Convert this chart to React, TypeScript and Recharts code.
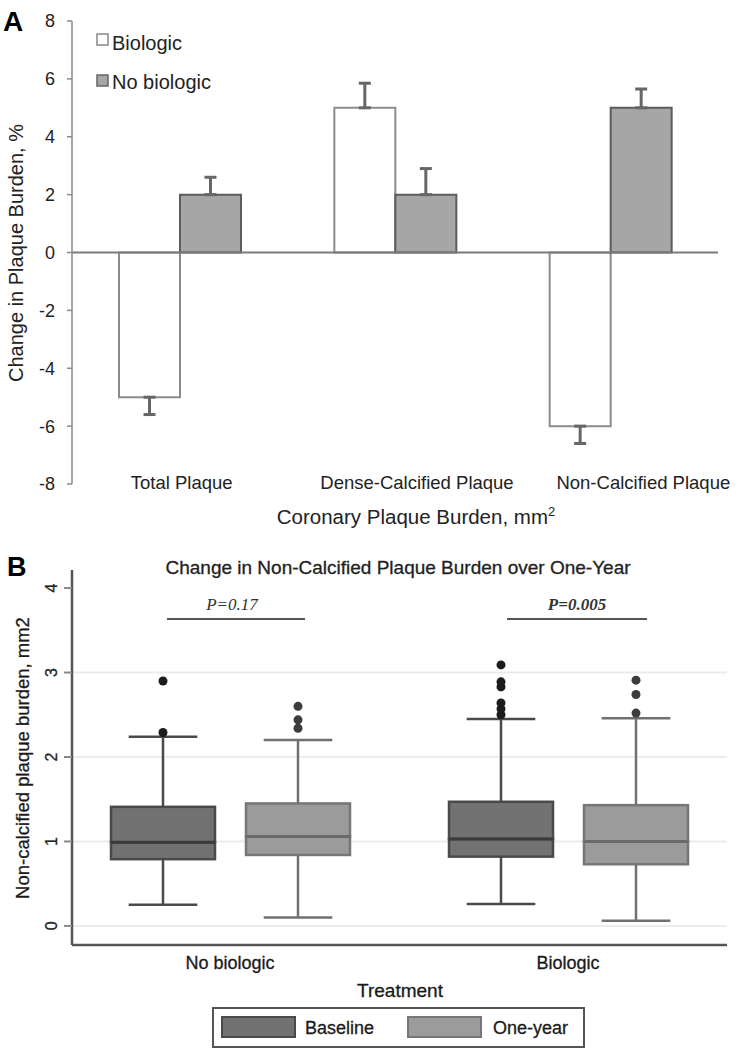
import React from 'react';
import {
  BarChart,
  ComposedChart,
  Bar,
  XAxis,
  YAxis,
  ErrorBar,
  ReferenceLine,
  CartesianGrid
} from 'recharts';

// Panel A: change in plaque burden (%)
const categories = ['Total Plaque', 'Dense-Calcified Plaque', 'Non-Calcified Plaque'];
const biologicChange = [-5, 5, -6];
const biologicError = [0.6, 0.85, 0.6];
const noBiologicChange = [2, 2, 5];
const noBiologicError = [0.6, 0.9, 0.65];
const yTicksA = [-8, -6, -4, -2, 0, 2, 4, 6, 8];

// Panel B: box plots of non-calcified plaque burden
const groups = ['No biologic', 'Biologic'];
const baselineMin = [0.25, 0.26];
const baselineQ1 = [0.79, 0.82];
const baselineMedian = [0.99, 1.03];
const baselineQ3 = [1.41, 1.47];
const baselineMax = [2.24, 2.45];
const baselineOutliers = [[2.29, 2.9], [2.5, 2.57, 2.64, 2.83, 2.89, 3.09]];
const oneYearMin = [0.1, 0.06];
const oneYearQ1 = [0.84, 0.73];
const oneYearMedian = [1.06, 1.0];
const oneYearQ3 = [1.45, 1.43];
const oneYearMax = [2.2, 2.46];
const oneYearOutliers = [[2.34, 2.44, 2.6], [2.52, 2.74, 2.91]];
const yTicksB = [0, 1, 2, 3, 4];
const gridB = [0, 1, 2, 3];

const FONT = 'Liberation Sans, Arial, Helvetica, sans-serif';
const SERIF = 'Liberation Serif, Times New Roman, serif';

const oneSided = (v: number, e: number) => (v < 0 ? [e, 0] : [0, e]);

const barRows = categories.map((name, i) => ({
  name,
  biologic: biologicChange[i],
  biologicErr: oneSided(biologicChange[i], biologicError[i]),
  noBiologic: noBiologicChange[i],
  noBiologicErr: oneSided(noBiologicChange[i], noBiologicError[i])
}));

const boxRows = groups.map((group, i) => ({
  group,
  bFloor: baselineMin[i],
  bLow: baselineQ1[i] - baselineMin[i],
  bBoxLow: baselineMedian[i] - baselineQ1[i],
  bBoxHigh: baselineQ3[i] - baselineMedian[i],
  bHigh: baselineMax[i] - baselineQ3[i],
  bMax: baselineMax[i],
  bOut: baselineOutliers[i],
  oFloor: oneYearMin[i],
  oLow: oneYearQ1[i] - oneYearMin[i],
  oBoxLow: oneYearMedian[i] - oneYearQ1[i],
  oBoxHigh: oneYearQ3[i] - oneYearMedian[i],
  oHigh: oneYearMax[i] - oneYearQ3[i],
  oMax: oneYearMax[i],
  oOut: oneYearOutliers[i]
}));

const tickShift = [2, 22, 33];

const CategoryTick = (props: any) => {
  const { x, y, payload } = props;
  const i = categories.indexOf(payload.value);
  return (
    <text x={x + (tickShift[i] || 0)} y={y - 2} textAnchor="middle" dominantBaseline="central"
      fontSize={18.5} fontFamily={FONT} fill="#222">
      {payload.value}
    </text>
  );
};

const GroupTick = (props: any) => {
  const { x, y, payload } = props;
  return (
    <text x={x} y={y + 18} textAnchor="middle" dominantBaseline="central"
      fontSize={18} fontFamily={FONT} fill="#1a1a1a" stroke="#1a1a1a" strokeWidth={0.3}>
      {payload.value}
    </text>
  );
};

const RotatedTick = (props: any) => {
  const { x, y, payload } = props;
  return (
    <text x={x} y={y} transform={`rotate(-90, ${x}, ${y})`} textAnchor="middle" dominantBaseline="central"
      fontSize={16} fontFamily={FONT} fill="#222" stroke="#222" strokeWidth={0.3}>
      {payload.value}
    </text>
  );
};

const Blank = () => <g />;

const lowerWhisker = (color: string) => (props: any) => {
  const { x, y, width, height } = props;
  const cx = x + width / 2;
  const cap = width * 0.33;
  return (
    <g>
      <line x1={cx} x2={cx} y1={y} y2={y + height} stroke={color} strokeWidth={2.5} />
      <line x1={cx - cap} x2={cx + cap} y1={y + height} y2={y + height} stroke={color} strokeWidth={2.5} />
    </g>
  );
};

const upperWhisker = (color: string, dot: string, spanKey: string, maxKey: string, outKey: string) =>
  (props: any) => {
    const { x, y, width, height, payload } = props;
    const cx = x + width / 2;
    const cap = width * 0.33;
    const perUnit = height / payload[spanKey];
    return (
      <g>
        <line x1={cx} x2={cx} y1={y} y2={y + height} stroke={color} strokeWidth={2.5} />
        <line x1={cx - cap} x2={cx + cap} y1={y} y2={y} stroke={color} strokeWidth={2.5} />
        {payload[outKey].map((v: number, k: number) => (
          <circle key={k} cx={cx} cy={y - (v - payload[maxKey]) * perUnit} r={4.5} fill={dot} />
        ))}
      </g>
    );
  };

const boxPart = (fill: string, edge: string, median?: string) => (props: any) => {
  const { x, y, width, height } = props;
  return (
    <g>
      <rect x={x} y={y} width={width} height={height} fill={fill} stroke={edge} strokeWidth={2.5} />
      {median && (
        <line x1={x} x2={x + width} y1={y + height} y2={y + height} stroke={median} strokeWidth={3} />
      )}
    </g>
  );
};

export default function App() {
  return (
    <div style={{ position: 'absolute', left: 0, top: 0, width: 740, height: 1053, background: '#fff' }}>
      <div style={{ position: 'absolute', left: 0, top: 0 }}>
        <BarChart width={740} height={540} data={barRows} barSize={61} barGap={0}
          margin={{ top: 21, right: 22, bottom: 26, left: 0 }}>
          <XAxis dataKey="name" axisLine={false} tickLine={false} tickSize={0} tickMargin={0}
            height={30} interval={0} tick={<CategoryTick />} />
          <YAxis domain={[-8, 8]} ticks={yTicksA} width={72} interval={0}
            axisLine={{ stroke: '#8a8a8a', strokeWidth: 1.5 }}
            tickLine={{ stroke: '#8a8a8a', strokeWidth: 1.5 }}
            tickSize={5} tickMargin={12}
            tick={{ fontSize: 18, fill: '#222', fontFamily: FONT }} />
          <Bar dataKey="biologic" fill="#ffffff" stroke="#8c8c8c" strokeWidth={2} isAnimationActive={false}>
            <ErrorBar dataKey="biologicErr" width={6} strokeWidth={3} stroke="#666" direction="y" />
          </Bar>
          <Bar dataKey="noBiologic" fill="#a6a6a6" stroke="#5c5c5c" strokeWidth={2} isAnimationActive={false}>
            <ErrorBar dataKey="noBiologicErr" width={6} strokeWidth={3} stroke="#666" direction="y" />
          </Bar>
          <ReferenceLine y={0} stroke="#7a7a7a" strokeWidth={2} />
        </BarChart>
      </div>

      <div style={{ position: 'absolute', left: 0, top: 540 }}>
        <ComposedChart width={740} height={513} data={boxRows} barSize={104} barGap={31}
          margin={{ top: 30, right: 13, bottom: 68, left: 0 }}>
          <CartesianGrid vertical={false} horizontalValues={gridB} stroke="#ececec" strokeWidth={2} />
          <XAxis dataKey="group" height={40} tickLine={false} tickSize={0} tickMargin={0}
            axisLine={{ stroke: '#555', strokeWidth: 2.5 }} padding={{ left: -11, right: -10 }}
            tick={<GroupTick />} />
          <YAxis domain={[-0.226, 4.214]} ticks={yTicksB} allowDataOverflow width={72}
            axisLine={{ stroke: '#555', strokeWidth: 2.5 }}
            tickLine={{ stroke: '#888', strokeWidth: 2 }}
            tickSize={8} tickMargin={12} tick={<RotatedTick />} />
          <Bar stackId="base" dataKey="bFloor" shape={<Blank />} isAnimationActive={false} />
          <Bar stackId="base" dataKey="bLow" shape={lowerWhisker('#4a4a4a')} isAnimationActive={false} />
          <Bar stackId="base" dataKey="bBoxLow" shape={boxPart('#727272', '#4a4a4a')} isAnimationActive={false} />
          <Bar stackId="base" dataKey="bBoxHigh" shape={boxPart('#727272', '#4a4a4a', '#3a3a3a')} isAnimationActive={false} />
          <Bar stackId="base" dataKey="bHigh" shape={upperWhisker('#4a4a4a', '#1c1c1c', 'bHigh', 'bMax', 'bOut')} isAnimationActive={false} />
          <Bar stackId="one" dataKey="oFloor" shape={<Blank />} isAnimationActive={false} />
          <Bar stackId="one" dataKey="oLow" shape={lowerWhisker('#707070')} isAnimationActive={false} />
          <Bar stackId="one" dataKey="oBoxLow" shape={boxPart('#9b9b9b', '#767676')} isAnimationActive={false} />
          <Bar stackId="one" dataKey="oBoxHigh" shape={boxPart('#9b9b9b', '#767676', '#6a6a6a')} isAnimationActive={false} />
          <Bar stackId="one" dataKey="oHigh" shape={upperWhisker('#707070', '#3c3c3c', 'oHigh', 'oMax', 'oOut')} isAnimationActive={false} />
        </ComposedChart>
      </div>

      <svg width={740} height={1053} style={{ position: 'absolute', left: 0, top: 0, pointerEvents: 'none' }}
        fontFamily={FONT}>
        {/* panel A annotations */}
        <text x={3} y={31} fontSize={28} fontWeight="bold" fill="#000">A</text>
        <rect x={97} y={34} width={11} height={11} fill="#fff" stroke="#888" strokeWidth={1.5} />
        <text x={112} y={50} fontSize={20} fill="#222">Biologic</text>
        <rect x={97} y={75} width={11} height={11} fill="#a6a6a6" stroke="#666" strokeWidth={1.5} />
        <text x={112} y={89} fontSize={20} fill="#222">No biologic</text>
        <text transform="translate(23,253) rotate(-90)" textAnchor="middle" fontSize={20} fill="#222">
          Change in Plaque Burden, %
        </text>
        <text x={416} y={524} textAnchor="middle" fontSize={20.5} fill="#222">
          Coronary Plaque Burden, mm<tspan dy={-8} fontSize={13}>2</tspan>
        </text>

        {/* panel B annotations */}
        <text x={7} y={576} fontSize={27} fontWeight="bold" fill="#000">B</text>
        <text x={398} y={574} textAnchor="middle" fontSize={19} fill="#222" stroke="#222" strokeWidth={0.3}>
          Change in Non-Calcified Plaque Burden over One-Year
        </text>
        <text x={232} y={610} textAnchor="middle" fontSize={17} fontStyle="italic" fontFamily={SERIF} fill="#333">
          P=0.17
        </text>
        <line x1={167} x2={305} y1={619} y2={619} stroke="#555" strokeWidth={2} />
        <text x={577} y={610} textAnchor="middle" fontSize={17} fontStyle="italic" fontWeight="bold"
          fontFamily={SERIF} fill="#333">
          P=0.005
        </text>
        <line x1={507} x2={647} y1={619} y2={619} stroke="#555" strokeWidth={2} />
        <text transform="translate(29,758) rotate(-90)" textAnchor="middle" fontSize={18.5} fill="#1a1a1a"
          stroke="#1a1a1a" strokeWidth={0.3}>
          Non-calcified plaque burden, mm2
        </text>
        <text x={400} y={997} textAnchor="middle" fontSize={19} fill="#1a1a1a" stroke="#1a1a1a" strokeWidth={0.3}>
          Treatment
        </text>
        <rect x={213} y={1008} width={371} height={39} fill="#fff" stroke="#555" strokeWidth={2} />
        <rect x={222} y={1017} width={73} height={20} fill="#727272" stroke="#4a4a4a" strokeWidth={2} />
        <text x={305} y={1034} fontSize={18} fill="#1a1a1a" stroke="#1a1a1a" strokeWidth={0.3}>Baseline</text>
        <rect x={408} y={1017} width={73} height={20} fill="#9b9b9b" stroke="#767676" strokeWidth={2} />
        <text x={493} y={1034} fontSize={18} fill="#1a1a1a" stroke="#1a1a1a" strokeWidth={0.3}>One-year</text>
      </svg>
    </div>
  );
}
